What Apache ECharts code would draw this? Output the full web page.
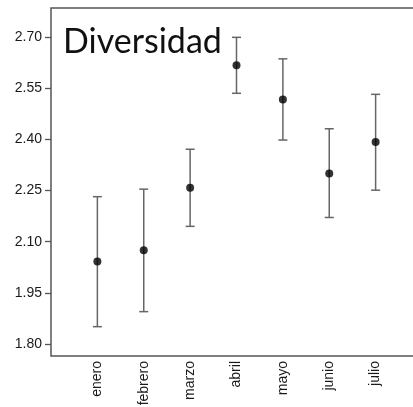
<!DOCTYPE html>
<html><head><meta charset="utf-8">
<script src="https://cdn.jsdelivr.net/npm/echarts@6/dist/echarts.min.js"></script>
<style>html,body{margin:0;padding:0;background:#fff;overflow:hidden}#c{width:413px;height:407px}</style>
</head><body><div id="c"></div>
<script>
const categories = ['enero','febrero','marzo','abril','mayo','junio','julio'];
const means = [2.042, 2.075, 2.258, 2.617, 2.517, 2.300, 2.392];
const lower = [1.851, 1.895, 2.145, 2.535, 2.398, 2.171, 2.251];
const upper = [2.232, 2.254, 2.371, 2.699, 2.636, 2.431, 2.532];
const yTicks = [1.80, 1.95, 2.10, 2.25, 2.40, 2.55, 2.70];
const titleText = 'Diversidad';

const chart = echarts.init(document.getElementById('c'), null, {renderer:'canvas'});
const errData = categories.map((c,i)=>[i+1, lower[i], upper[i]]);
const meanData = categories.map((c,i)=>[i+1, means[i]]);
chart.setOption({
  animation:false,
  title:{text:titleText,left:58,top:20,textStyle:{fontFamily:'Lato',fontSize:34,fontWeight:'normal',color:'#111'}},
  grid:{left:51,top:8,height:348,width:371,outerBoundsMode:'none',containLabel:false,show:true,borderColor:'#555',borderWidth:1.5,backgroundColor:'transparent'},
  xAxis:{type:'value',min:0,max:8,interval:1,
    axisLine:{show:false},axisTick:{show:false},splitLine:{show:false},
    axisLabel:{rotate:90,margin:5,fontFamily:'Liberation Sans',fontSize:14,color:'#1a1a1a',
      formatter:v=>categories[v-1]||''}},
  yAxis:{type:'value',min:1.765,max:2.785,
    axisLine:{show:false},splitLine:{show:false},
    axisTick:{show:true,length:6,lineStyle:{color:'#555',width:1.3},customValues:yTicks},
    axisLabel:{margin:9,fontFamily:'Liberation Sans',fontSize:14,color:'#1a1a1a',customValues:yTicks,formatter:v=>v.toFixed(2)}},
  series:[
    {type:'custom',data:errData,encode:{x:0,y:[1,2]},
     renderItem:function(params,api){
       const x=api.value(0);
       const lo=api.coord([x,api.value(1)]);
       const hi=api.coord([x,api.value(2)]);
       const w=4.5;
       const st={stroke:'#666',lineWidth:1.5};
       return {type:'group',children:[
         {type:'line',shape:{x1:lo[0],y1:lo[1],x2:hi[0],y2:hi[1]},style:st},
         {type:'line',shape:{x1:hi[0]-w,y1:hi[1],x2:hi[0]+w,y2:hi[1]},style:st},
         {type:'line',shape:{x1:lo[0]-w,y1:lo[1],x2:lo[0]+w,y2:lo[1]},style:st}
       ]};
     }},
    {type:'scatter',data:meanData,symbol:'circle',symbolSize:8,itemStyle:{color:'#000'},z:5}
  ]
});
</script></body></html>
